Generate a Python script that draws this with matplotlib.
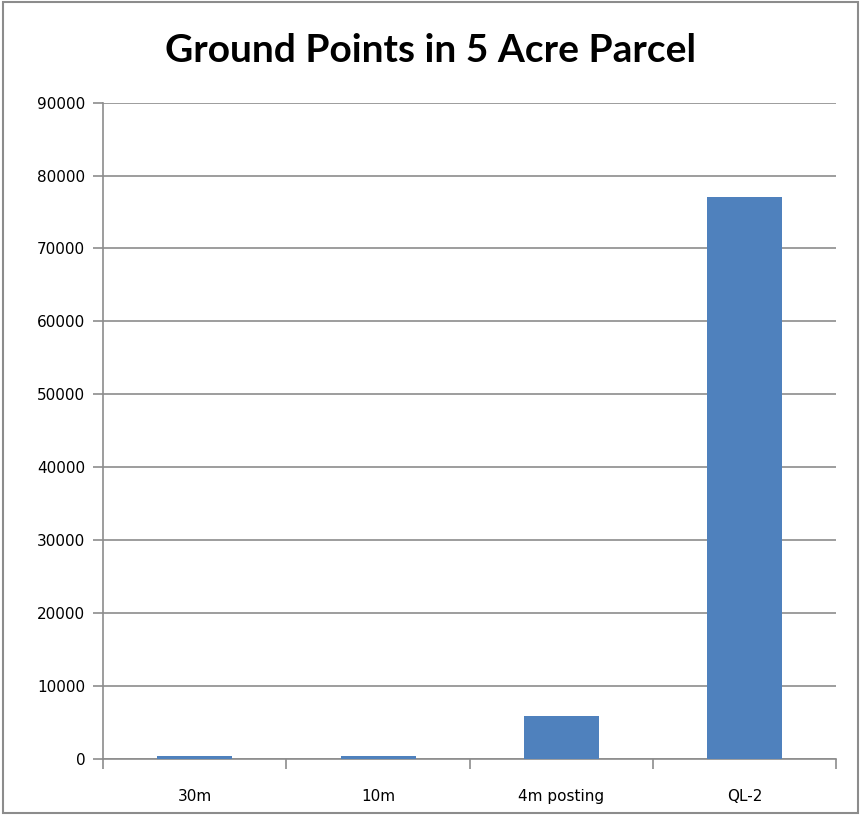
import matplotlib.pyplot as plt
import numpy as np
from matplotlib.patches import Rectangle

categories = ['30m', '10m', '4m posting', 'QL-2']
points = [350, 350, 5900, 77000]
yticks = list(range(0, 90001, 10000))

fig = plt.figure(figsize=(8.61, 8.15), dpi=100)
ax = fig.add_axes([0.12, 0.069, 0.851, 0.805])

x = np.arange(len(categories))
ax.bar(x, points, width=0.41, color='#4f81bd', zorder=3)

ax.set_xlim(-0.5, len(categories) - 0.5)
ax.set_ylim(0, 90000)
ax.set_yticks(yticks)
ax.set_yticklabels([str(v) for v in yticks], fontsize=11, family='DejaVu Sans')
ax.yaxis.grid(True, color='#8c8c8c', linewidth=1.2, zorder=0)

ax.set_xticks(x)
ax.set_xticklabels(categories, fontsize=11, family='DejaVu Sans')
ax.tick_params(axis='x', which='major', length=0, pad=22)
ax.set_xticks(np.arange(-0.5, len(categories)), minor=True)
ax.tick_params(axis='x', which='minor', length=7, color='#8c8c8c', width=1.2)
ax.tick_params(axis='y', length=7, color='#8c8c8c', width=1.2, pad=6)

for side in ['top', 'right']:
    ax.spines[side].set_visible(False)
for side in ['left', 'bottom']:
    ax.spines[side].set_color('#8c8c8c')
    ax.spines[side].set_linewidth(1.2)

fig.text(0.5, 0.938, 'Ground Points in 5 Acre Parcel', ha='center', va='center',
         fontsize=28, fontweight='bold', family='Lato')

fig.patches.append(Rectangle((0.003, 0.003), 0.994, 0.994, transform=fig.transFigure,
                             fill=False, edgecolor='#8c8c8c', linewidth=1.5))

fig.savefig('out.png', dpi=100)
